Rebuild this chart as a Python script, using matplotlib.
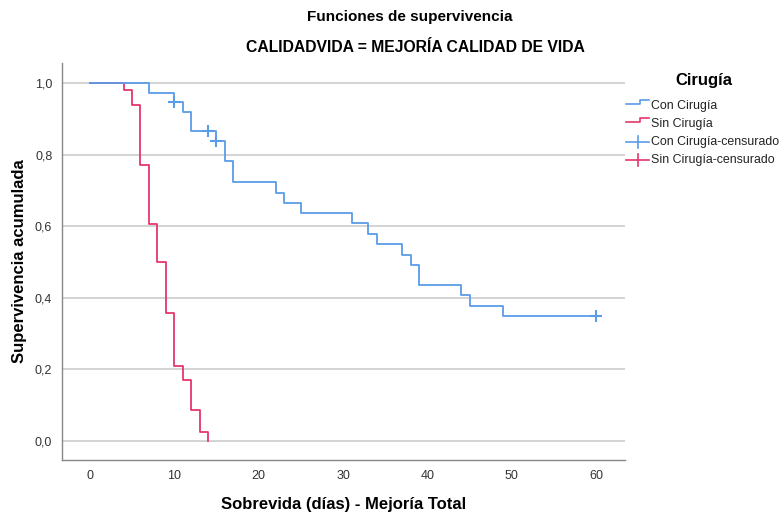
import matplotlib
matplotlib.use("Agg")
import matplotlib.pyplot as plt
from matplotlib.lines import Line2D

plt.rcParams['font.family'] = ['Liberation Sans', 'DejaVu Sans']

# Kaplan-Meier estimates (step levels after each event time)
con_times = [0, 7, 10, 11, 12, 15, 16, 17, 22, 23, 25, 31, 33, 34, 37, 38, 39, 44, 45, 49]
con_surv = [1.0, 0.972, 0.946, 0.920, 0.866, 0.839, 0.782, 0.724, 0.694, 0.666,
            0.637, 0.608, 0.579, 0.550, 0.521, 0.492, 0.435, 0.407, 0.378, 0.349]
con_end = 60
con_cens_t = [10, 14, 15, 60]
con_cens_s = [0.946, 0.866, 0.839, 0.349]

sin_times = [0, 4, 5, 6, 7, 8, 9, 10, 11, 12, 13, 14]
sin_surv = [1.0, 0.980, 0.940, 0.771, 0.605, 0.501, 0.357, 0.210, 0.170, 0.087, 0.024, 0.0]
sin_end = 14

x_ticks = [0, 10, 20, 30, 40, 50, 60]
y_ticks = [0.0, 0.2, 0.4, 0.6, 0.8, 1.0]
y_ticklabels = ["0,0", "0,2", "0,4", "0,6", "0,8", "1,0"]

BLUE = "#5B9CE8"
RED = "#E5376B"

W, H = 784, 516
fig = plt.figure(figsize=(W / 100, H / 100), dpi=100)
ax = fig.add_axes([62 / W, 56 / H, (625 - 62) / W, (460 - 63) / H])

for yv in y_ticks:
    ax.axhline(yv, color="#CCCCCC", lw=1.2, zorder=0)

ax.step(con_times + [con_end], con_surv + [con_surv[-1]], where="post",
        color=BLUE, lw=1.3, zorder=3)
ax.step(sin_times + [sin_end], sin_surv + [sin_surv[-1]], where="post",
        color=RED, lw=1.3, zorder=2)
ax.plot(con_cens_t, con_cens_s, ls="none", marker="+", ms=9, mew=1.5,
        color=BLUE, zorder=4)

ax.set_xlim(-3.3, 63.4)
ax.set_ylim(-0.053, 1.056)
ax.set_xticks(x_ticks)
ax.set_xticklabels([str(v) for v in x_ticks])
ax.set_yticks(y_ticks)
ax.set_yticklabels(y_ticklabels)
ax.tick_params(length=0, labelsize=9, colors="#333333")
ax.tick_params(axis="x", pad=7)
ax.tick_params(axis="y", pad=7)
for s in ["top", "right"]:
    ax.spines[s].set_visible(False)
for s in ["left", "bottom"]:
    ax.spines[s].set_color("#888888")
    ax.spines[s].set_linewidth(1.0)

ax.set_xlabel("Sobrevida (días) - Mejoría Total", fontsize=12, fontweight="bold",
              va="center")
ax.xaxis.set_label_coords(0.5, (460 - 505) / (460 - 63))
ax.set_ylabel("Supervivencia acumulada", fontsize=12, fontweight="bold", va="center")
ax.yaxis.set_label_coords((20 - 62) / (625 - 62), 0.5)


def px(x, y):
    return x / W, 1 - y / H


fig.text(*px(410, 17), "Funciones de supervivencia", ha="center",
         va="center", fontsize=11, fontweight="bold")
fig.text(*px(415, 48), "CALIDADVIDA = MEJORÍA CALIDAD DE VIDA", ha="center",
         va="center", fontsize=11.3, fontweight="bold")

# Legend drawn in pixel coordinates
fig.text(*px(704, 80), "Cirugía", ha="center", va="center", fontsize=12,
         fontweight="bold")

labels = ["Con Cirugía", "Sin Cirugía", "Con Cirugía-censurado", "Sin Cirugía-censurado"]
ys = [106, 124, 142, 160]
colors = [BLUE, RED, BLUE, RED]
for i, (lab, yy, c) in enumerate(zip(labels, ys, colors)):
    if i < 2:
        xs = [626, 640, 640, 649]
        yl = [yy - 2, yy - 2, yy - 6, yy - 6]
        fx, fy = zip(*[px(a, b) for a, b in zip(xs, yl)])
        fig.add_artist(Line2D(fx, fy, color=c, lw=1.2))
    else:
        fx, fy = zip(*[px(626, yy), px(649, yy)])
        fig.add_artist(Line2D(fx, fy, color=c, lw=1.2))
        fx, fy = zip(*[px(638, yy - 6), px(638, yy + 6)])
        fig.add_artist(Line2D(fx, fy, color=c, lw=1.2))
    fig.text(*px(651, yy), lab, ha="left", va="center", fontsize=8.9, color="#222222")

fig.savefig("out.png", dpi=100)
